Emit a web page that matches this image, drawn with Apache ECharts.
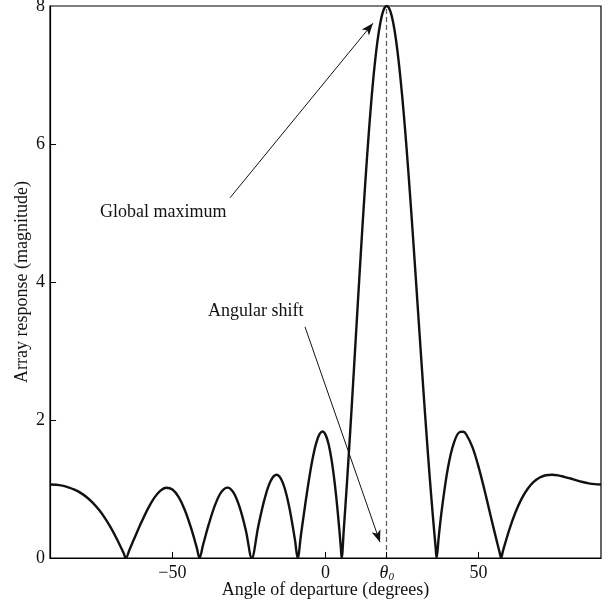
<!DOCTYPE html>
<html>
<head>
<meta charset="utf-8">
<script src="https://cdn.jsdelivr.net/npm/echarts@6/dist/echarts.min.js"></script>
<style>html,body{margin:0;padding:0;background:#fff;}#c{width:613px;height:603px;}</style>
</head>
<body>
<div id="c"></div>
<script>
const angleDeg = [-90,-88,-86,-84,-82,-80,-78,-76,-74,-72,-70,-68,-66,-65.23,-64,-62,-60,-58,-56,-54,-52,-50,-48,-46,-44,-42,-41.15,-40,-38,-36,-34,-32,-30,-28,-26,-24.08,-22,-20,-18,-16,-14,-12,-10,-9.09,-8,-7,-6,-5,-4,-3,-2,-1,0,1,2,3,4,5,5.28,6,7,8,9,10,11,12,13,14,15,16,17,18,19,20,21,22,23,24,25,26,27,28,29,30,31,32,33,34,35,36,36.30,37,38,40,42,44,45,46,48,50,52,54,56,57,57.35,58,60,62,64,66,68,70,72,74,76,78,80,82,84,86,88,90];
const response = [1.065,1.061,1.048,1.025,0.991,0.944,0.881,0.800,0.698,0.575,0.430,0.262,0.076,0,0.124,0.330,0.531,0.716,0.868,0.974,1.019,0.992,0.885,0.700,0.446,0.140,0,0.190,0.508,0.777,0.958,1.020,0.944,0.730,0.396,0,0.451,0.838,1.109,1.207,1.096,0.772,0.270,0,0.341,0.658,0.964,1.245,1.485,1.672,1.791,1.833,1.788,1.651,1.418,1.088,0.666,0.157,0,0.430,1.081,1.783,2.518,3.271,4.021,4.751,5.440,6.075,6.640,7.116,7.499,7.775,7.945,8.000,7.945,7.782,7.518,7.159,6.719,6.207,5.638,5.026,4.384,3.727,3.069,2.419,1.792,1.198,0.646,0.141,0,0.309,0.702,1.309,1.677,1.827,1.829,1.790,1.606,1.321,0.974,0.602,0.235,0.060,0,0.106,0.405,0.655,0.853,1.001,1.103,1.167,1.199,1.207,1.198,1.177,1.152,1.125,1.101,1.082,1.070,1.065];
const theta0 = 20;
const xTicks = [-50, 0, 20, 50];
const yTicks = [0, 2, 4, 6, 8];
const annotations = [
  {text: 'Global maximum', at: [-73.7, 5.01], from: [-31.2, 5.22], to: [15.5, 7.75]},
  {text: 'Angular shift', at: [-38.4, 3.58], from: [-6.7, 3.35], to: [17.8, 0.23]}
];

const FONT = 'Liberation Serif';
const FS = 18;
const X_MIN = -90, X_MAX = 90, Y_MIN = 0, Y_MAX = 8;
const chart = echarts.init(document.getElementById('c'));
const data = angleDeg.map((a, i) => [a, response[i]]);

// tick marks drawn inside the frame, sized as a fraction of each axis span
const xTickLen = (Y_MAX - Y_MIN) * 0.011;
const yTickLen = (X_MAX - X_MIN) * 0.011;
const tickLines = [].concat(
  xTicks.map(v => [{coord: [v, Y_MIN]}, {coord: [v, Y_MIN + xTickLen]}]),
  yTicks.filter(v => v > Y_MIN && v < Y_MAX).map(v => [{coord: [X_MIN, v]}, {coord: [X_MIN + yTickLen, v]}])
);

chart.setOption({
  animation: false,
  grid: {left: 50, right: 12, top: 6, bottom: 45, outerBoundsMode: 'none', containLabel: false,
         show: true, borderColor: '#000', borderWidth: 1.2, backgroundColor: 'transparent'},
  xAxis: {
    type: 'value', min: X_MIN, max: X_MAX,
    name: 'Angle of departure (degrees)', nameLocation: 'middle', nameGap: 23, nameMoveOverlap: false,
    nameTextStyle: {fontFamily: FONT, fontSize: FS, color: '#111'},
    axisLine: {show: true, onZero: false, lineStyle: {color: '#000', width: 1.2}},
    axisTick: {show: false},
    axisLabel: {
      customValues: xTicks, margin: 6, fontFamily: FONT, fontSize: FS, color: '#111',
      formatter: v => v === theta0 ? '{it|θ}{sub|0}' : (v < 0 ? '\u2212' + Math.abs(v) : String(v)),
      rich: {
        it: {fontFamily: FONT, fontStyle: 'italic', fontSize: FS, color: '#111'},
        sub: {fontFamily: FONT, fontStyle: 'italic', fontSize: 11, color: '#111', verticalAlign: 'bottom', padding: [8, 0, 0, 0]}
      }
    },
    splitLine: {show: false}
  },
  yAxis: {
    type: 'value', min: Y_MIN, max: Y_MAX, interval: 2,
    name: 'Array response (magnitude)', nameLocation: 'middle', nameGap: 19, nameMoveOverlap: false,
    nameTextStyle: {fontFamily: FONT, fontSize: FS, color: '#111'},
    axisLine: {show: true, onZero: false, lineStyle: {color: '#000', width: 1.2}},
    axisTick: {show: false},
    axisLabel: {margin: 5, fontFamily: FONT, fontSize: FS, color: '#111',
      formatter: v => yTicks.includes(v) ? String(v) : ''},
    splitLine: {show: false}
  },
  series: [{
    type: 'line', data: data, smooth: 0.35, showSymbol: false, symbol: 'none', z: 3,
    lineStyle: {color: '#111', width: 2.4},
    markLine: {
      silent: true, symbol: ['none', 'none'], animation: false,
      label: {show: false},
      data: [[{coord: [theta0, Y_MIN], lineStyle: {color: '#555', type: [5, 3], width: 1.2}}, {coord: [theta0, Y_MAX]}]]
    }
  }, {
    type: 'line', data: [], silent: true,
    markLine: {
      silent: true, symbol: ['none', 'arrow'], symbolSize: [7, 12], animation: false,
      label: {show: false},
      lineStyle: {color: '#111', type: 'solid', width: 1},
      data: annotations.map(a => [{coord: a.from}, {coord: a.to}])
    },
    markPoint: {
      silent: true, symbol: 'circle', symbolSize: 0, animation: false,
      label: {show: true, position: 'right', distance: 0, fontFamily: FONT, fontSize: FS, color: '#111', formatter: p => p.name},
      data: annotations.map(a => ({name: a.text, coord: a.at}))
    }
  }, {
    type: 'line', data: [], silent: true,
    markLine: {
      silent: true, symbol: ['none', 'none'], animation: false,
      label: {show: false},
      lineStyle: {color: '#000', type: 'solid', width: 1},
      data: tickLines
    }
  }]
});
</script>
</body>
</html>
